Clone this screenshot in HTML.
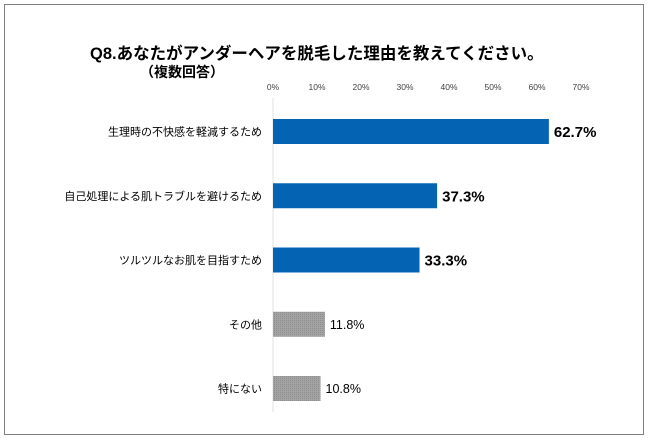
<!DOCTYPE html>
<html><head><meta charset="utf-8"><style>
body{margin:0;background:#fff;}
svg{display:block;font-family:"Liberation Sans","Noto Sans CJK JP",sans-serif;}
</style></head><body>
<svg id="c" width="650" height="440">
<defs><pattern id="hatch" width="2" height="2" patternUnits="userSpaceOnUse"><rect width="2" height="2" fill="#a3a3a3"/><rect width="1" height="1" fill="#8e8e8e"/></pattern></defs>
<rect x="4.5" y="4.5" width="639" height="430" fill="#fff" stroke="#7f7f7f"/>
<text x="90" y="59" font-size="16.5" font-weight="bold" fill="#000">Q8.あなたがアンダーヘアを脱毛した理由を教えてください。</text>
<text x="140" y="77" font-size="14" font-weight="bold" fill="#000">（複数回答）</text>
<line x1="273" y1="98" x2="273" y2="412" stroke="#e0e0e0"/>
<g id="ticks"></g><g id="bars"></g>
</svg>
<script>
const categories=["生理時の不快感を軽減するため","自己処理による肌トラブルを避けるため","ツルツルなお肌を目指すため","その他","特にない"];
const values=[62.7,37.3,33.3,11.8,10.8];
const labels=["62.7%","37.3%","33.3%","11.8%","10.8%"];
const tickValues=[0,10,20,30,40,50,60,70];
const tickLabels=["0%","10%","20%","30%","40%","50%","60%","70%"];
const ns="http://www.w3.org/2000/svg";
const x=v=>273+v*4.4;
const y=i=>131.5+i*64.25;
const tg=document.getElementById('ticks'),bg=document.getElementById('bars');
function mk(t,a,p){const e=document.createElementNS(ns,t);for(const k in a)e.setAttribute(k,a[k]);p.appendChild(e);return e;}
tickValues.forEach((v,i)=>{const t=mk('text',{x:x(v),y:90,'font-size':8.5,'text-anchor':'middle',fill:'#404040'},tg);t.textContent=tickLabels[i];

});
values.forEach((v,i)=>{const hi=i<3;
const r=mk('rect',{x:x(0),y:y(i)-12.5,width:x(v)-x(0),height:25,fill:hi?'#0563b4':'url(#hatch)'},bg);


const c=mk('text',{x:262,y:y(i)+4,'font-size':11,'text-anchor':'end',fill:'#000'},bg);c.textContent=categories[i];


const l=mk('text',{x:x(v)+5,y:y(i)+(hi?5.5:4.5),'font-size':hi?15:12.5,'font-weight':hi?'bold':'normal',fill:'#000'},bg);l.textContent=labels[i];

});
</script>
</body></html>
